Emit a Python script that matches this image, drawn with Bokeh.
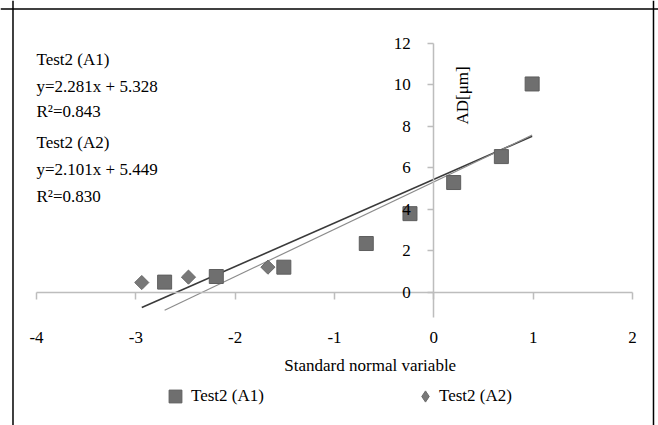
from bokeh.plotting import figure
from bokeh.models import (Range1d, FixedTicker, Label, Legend, LegendItem, Span)
from bokeh.embed import file_html
from bokeh.resources import INLINE
import math

# ---- data ----
a1_x = [-2.71, -2.19, -1.51, -0.68, -0.24, 0.20, 0.68, 0.99]
a1_y = [0.50, 0.77, 1.22, 2.36, 3.80, 5.30, 6.55, 10.05]
a2_x = [-2.94, -2.47, -1.67]
a2_y = [0.48, 0.74, 1.22]

# trend lines (from the printed equations)
a1_slope, a1_icpt = 2.281, 5.328
a2_slope, a2_icpt = 2.101, 5.449
a1_line_x = [-2.71, 0.99]
a2_line_x = [-2.94, 0.99]

x_ticks = [-4, -3, -2, -1, 0, 1, 2]
y_ticks = [0, 2, 4, 6, 8, 10, 12]

FONT = "Liberation Serif"
FS = "17px"

p = figure(width=658, height=425, output_backend="svg", toolbar_location=None,
           x_range=Range1d(-4.3624, 2.2620), y_range=Range1d(-6.410, 14.072),
           min_border_left=0, min_border_right=0, min_border_top=0, min_border_bottom=0)
p.outline_line_color = None
p.grid.visible = False
p.background_fill_color = "white"
p.border_fill_color = "white"

# axes crossing at zero
xa = p.xaxis[0]
xa.fixed_location = 0
xa.bounds = (-4, 2)
xa.ticker = FixedTicker(ticks=x_ticks)
xa.major_label_overrides = {t: str(t) for t in x_ticks}
xa.axis_line_color = "#bdbdbd"
xa.axis_line_width = 1.5
xa.major_tick_line_color = "#bdbdbd"
xa.major_tick_line_width = 1.5
xa.major_tick_out = 7
xa.major_tick_in = 0
xa.minor_tick_line_color = None
xa.major_label_standoff = 33
xa.major_label_text_font = FONT
xa.major_label_text_font_size = FS
xa.major_label_text_color = "black"

ya = p.yaxis[0]
ya.fixed_location = 0
ya.bounds = (-1.2, 12)
ya.ticker = FixedTicker(ticks=y_ticks)
ya.axis_line_color = "#bdbdbd"
ya.axis_line_width = 1.5
ya.major_tick_line_color = "#bdbdbd"
ya.major_tick_line_width = 1.5
ya.major_tick_out = 6
ya.major_tick_in = 0
ya.minor_tick_line_color = None
ya.major_label_standoff = 17
ya.major_label_text_font = FONT
ya.major_label_text_font_size = FS
ya.major_label_text_color = "black"
ya.major_label_orientation = "horizontal"

# trend lines
p.line(a2_line_x, [a2_slope * x + a2_icpt for x in a2_line_x], line_color="#3a3a3a", line_width=1.6)
p.line(a1_line_x, [a1_slope * x + a1_icpt for x in a1_line_x], line_color="#8c8c8c", line_width=1.2)

# points (diamond key drawn underneath the rotated squares, used for the legend swatch)
r2_key = p.scatter(a2_x, a2_y, marker="diamond", size=10, fill_color="#787878", line_color="#6a6a6a")
r2 = p.scatter(a2_x, a2_y, marker="square", angle=math.pi / 4, size=10,
               fill_color="#787878", line_color="#6a6a6a")
r1 = p.scatter(a1_x, a1_y, marker="square", size=14, fill_color="#6f6f6f", line_color="#5e5e5e")

leg1 = Legend(items=[LegendItem(label="Test2 (A1)", renderers=[r1])],
              location=(159, 13), glyph_width=32, glyph_height=32, label_standoff=0,
              padding=0, margin=0, border_line_color=None, background_fill_alpha=0,
              label_text_font=FONT, label_text_font_size=FS, label_text_color="black")
leg2 = Legend(items=[LegendItem(label="Test2 (A2)", renderers=[r2_key])],
              location=(411, 15), glyph_width=28, glyph_height=28, label_standoff=0,
              padding=0, margin=0, border_line_color=None, background_fill_alpha=0,
              label_text_font=FONT, label_text_font_size=FS, label_text_color="black")
p.add_layout(leg1, "center")
p.add_layout(leg2, "center")

# axis titles
p.add_layout(Label(x=-0.64, y=-3.52, text="Standard normal variable", text_font=FONT,
                   text_font_size=FS, text_align="center", text_baseline="middle",
                   text_color="black"))
p.add_layout(Label(x=0.29, y=9.5, text="AD[μm]", angle=math.pi / 2, text_font=FONT,
                   text_font_size=FS, text_align="center", text_baseline="middle",
                   text_color="black"))

# equation annotations
ann = ["Test2 (A1)", "y=2.281x + 5.328", "R²=0.843",
       "Test2 (A2)", "y=2.101x + 5.449", "R²=0.830"]
ann_y = [11.25, 9.95, 8.7, 7.25, 5.95, 4.65]
for t, yy in zip(ann, ann_y):
    p.add_layout(Label(x=-4.0, y=yy, text=t, text_font=FONT, text_font_size=FS,
                       text_align="left", text_baseline="middle", text_color="black"))

# outer frame border (left, top, right)
p.add_layout(Span(location=-4.2366, dimension="height", line_color="black", line_width=1.5))
p.add_layout(Span(location=2.2116, dimension="height", line_color="black", line_width=1.5))
p.add_layout(Span(location=13.662, dimension="width", line_color="black", line_width=1.5))

open("out.html", "w").write(file_html(p, INLINE))
